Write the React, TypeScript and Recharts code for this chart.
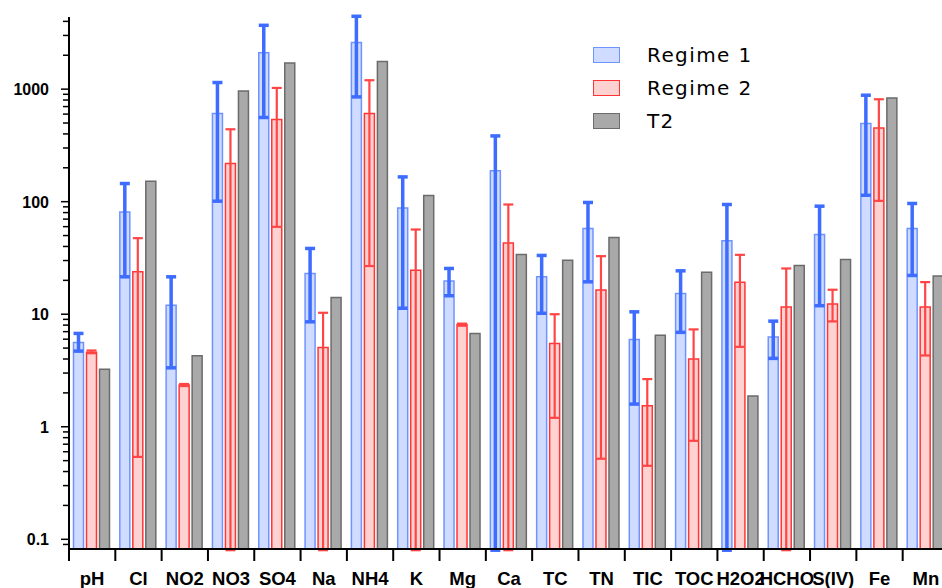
import React from "react";
import { BarChart, Bar, XAxis, YAxis, ErrorBar, Legend } from "recharts";

// species measured in the cloud water samples
const categories = [
  "pH", "Cl", "NO2", "NO3", "SO4", "Na", "NH4", "K", "Mg", "Ca",
  "TC", "TN", "TIC", "TOC", "H2O2", "HCHO", "S(IV)", "Fe", "Mn",
];

// Regime 1: mean, lower and upper bounds of the error bar
const regime1 = [5.6, 81, 12.0, 607, 2100, 23.0, 2590, 88, 19.7, 188, 21.5, 57.8, 5.97, 15.3, 44.9, 6.26, 51.2, 495, 57.8];
const regime1Low = [4.7, 21.5, 3.34, 101, 560, 8.56, 853, 11.3, 14.6, 0.08, 10.2, 19.4, 1.59, 6.9, 0.08, 4.05, 11.9, 114, 22.1];
const regime1High = [6.75, 145, 21.5, 1145, 3690, 38.4, 4440, 166, 25.5, 384, 33.3, 98.4, 10.5, 24.3, 94.4, 8.68, 91.2, 883, 96.4];

// Regime 2
const regime2 = [4.6, 23.8, 2.35, 218, 537, 5.07, 607, 24.6, 8.1, 43, 5.5, 16.4, 1.54, 4.0, 19.2, 11.6, 12.3, 452, 11.6];
const regime2Low = [4.5, 0.54, 2.3, 0.08, 59.8, 0.08, 26.8, 0.08, 7.9, 0.08, 1.2, 0.52, 0.45, 0.75, 5.13, 0.08, 8.63, 101.7, 4.3];
const regime2High = [4.76, 47.4, 2.4, 440, 1025, 10.3, 1200, 56.6, 8.25, 94.4, 10.0, 32.8, 2.65, 7.33, 33.7, 25.5, 16.5, 813, 19.3];

// T2 (no error bars)
const t2 = [3.25, 152, 4.27, 964, 1710, 14.1, 1758, 113.5, 6.75, 34, 30.2, 48, 6.5, 23.6, 1.88, 27.1, 30.7, 836, 21.9];

const yTicks = [
  0.09, 0.1, 0.2, 0.3, 0.4, 0.5, 0.6, 0.7, 0.8, 0.9,
  1, 2, 3, 4, 5, 6, 7, 8, 9,
  10, 20, 30, 40, 50, 60, 70, 80, 90,
  100, 200, 300, 400, 500, 600, 700, 800, 900,
  1000, 2000, 3000, 4000,
];

const BLUE = { fill: "#cfdcff", stroke: "#7094ff", err: "#3d6cff" };
const RED = { fill: "#ffd2d2", stroke: "#ff3535", err: "#ff4545" };
const GRAY = { fill: "#a9a9a9", stroke: "#6b6b6b" };

const legendItems = [
  { label: "Regime 1", ...BLUE },
  { label: "Regime 2", ...RED },
  { label: "T2", ...GRAY },
];

const data = categories.map((name, i) => ({
  name,
  r1: regime1[i],
  r1Err: [regime1[i] - regime1Low[i], regime1High[i] - regime1[i]],
  r2: regime2[i],
  r2Err: [regime2[i] - regime2Low[i], regime2High[i] - regime2[i]],
  t2: t2[i],
}));

const isMajor = (v: number) => {
  const l = Math.log10(v);
  return Math.abs(l - Math.round(l)) < 1e-6;
};

function YTick(props: any) {
  const { x, y, payload } = props;
  const major = isMajor(payload.value);
  return (
    <g>
      <line x1={x - (major ? 8 : 6)} x2={x} y1={y} y2={y} stroke="#000" strokeWidth={1.5} />
      {major && (
        <text
          x={x - 20}
          y={y}
          dy={6}
          textAnchor="end"
          fontFamily="Liberation Sans"
          fontWeight="bold"
          fontSize={16}
          fill="#000"
        >
          {String(payload.value)}
        </text>
      )}
    </g>
  );
}

function XTick(props: any) {
  const { x, y, payload } = props;
  const half = payload.offset || 23.15;
  return (
    <g>
      <line x1={x - half} x2={x - half} y1={y} y2={y + 12} stroke="#000" strokeWidth={2} />
      <text
        x={x}
        y={y + 36}
        textAnchor="middle"
        fontFamily="Liberation Sans"
        fontWeight="bold"
        fontSize={18.5}
        fill="#000"
      >
        {payload.value}
      </text>
    </g>
  );
}

function LegendBox() {
  return (
    <div style={{ fontFamily: "DejaVu Sans", fontSize: 20, letterSpacing: 1.4, color: "#000" }}>
      {legendItems.map((it) => (
        <div key={it.label} style={{ display: "flex", alignItems: "center", height: 33 }}>
          <span
            style={{
              display: "inline-block",
              width: 25,
              height: 14,
              background: it.fill,
              border: `1.5px solid ${it.stroke}`,
              marginRight: 27,
            }}
          />
          <span>{it.label}</span>
        </div>
      ))}
    </div>
  );
}

export default function App() {
  return (
    <div
      style={{
        position: "absolute",
        left: 0,
        top: 0,
        width: 942,
        height: 588,
        overflow: "hidden",
        background: "#fff",
      }}
    >
      <BarChart
        width={960}
        height={588}
        data={data}
        margin={{ top: 17, right: 11, left: 0, bottom: 0 }}
        barCategoryGap={4.5}
        barGap={3}
      >
        <XAxis
          dataKey="name"
          interval={0}
          height={39}
          tickLine={false}
          tickSize={0}
          tickMargin={0}
          axisLine={{ stroke: "#000", strokeWidth: 2 }}
          tick={<XTick />}
        />
        <YAxis
          scale="log"
          domain={[0.082, 4375]}
          allowDataOverflow
          ticks={yTicks}
          interval={0}
          width={69}
          tickLine={false}
          tickSize={0}
          tickMargin={0}
          axisLine={{ stroke: "#000", strokeWidth: 2 }}
          tick={<YTick />}
        />
        <Legend
          layout="vertical"
          align="center"
          verticalAlign="middle"
          wrapperStyle={{ top: 38, left: 593, width: 220 }}
          content={() => <LegendBox />}
        />
        <Bar dataKey="r1" name="Regime 1" fill={BLUE.fill} stroke={BLUE.stroke} strokeWidth={1.5} isAnimationActive={false}>
          <ErrorBar dataKey="r1Err" width={5} stroke={BLUE.err} strokeWidth={3.5} isAnimationActive={false} />
        </Bar>
        <Bar dataKey="r2" name="Regime 2" fill={RED.fill} stroke={RED.stroke} strokeWidth={1.5} isAnimationActive={false}>
          <ErrorBar dataKey="r2Err" width={5} stroke={RED.err} strokeWidth={2.2} isAnimationActive={false} />
        </Bar>
        <Bar dataKey="t2" name="T2" fill={GRAY.fill} stroke={GRAY.stroke} strokeWidth={1.5} isAnimationActive={false} />
      </BarChart>
    </div>
  );
}
